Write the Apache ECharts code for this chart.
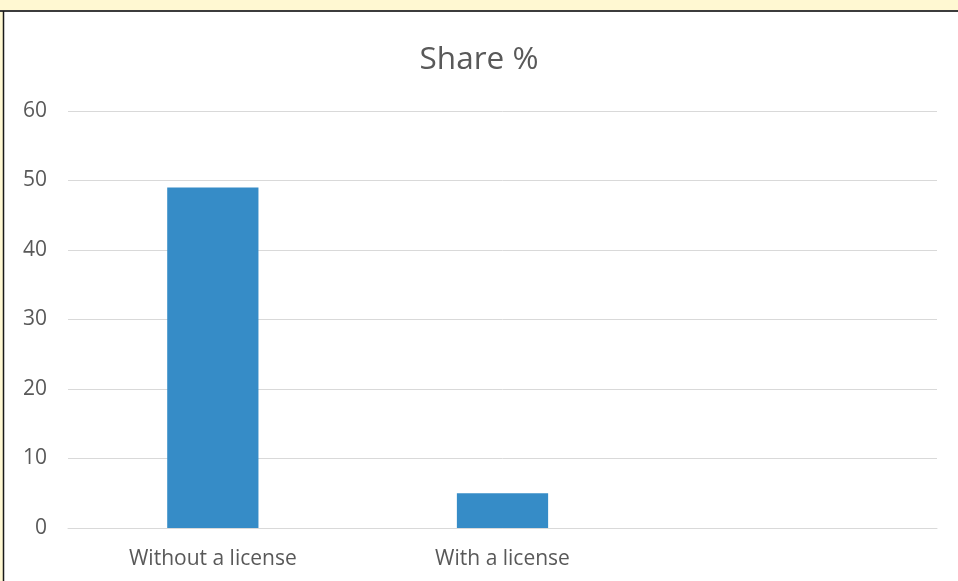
<!DOCTYPE html>
<html>
<head>
<meta charset="utf-8">
<script src="https://cdn.jsdelivr.net/npm/echarts@6/dist/echarts.min.js"></script>
<style>
html,body{margin:0;padding:0;background:#FFF8D2;}
#c{width:958px;height:581px;}
</style>
</head>
<body>
<div id="c"></div>
<script>
const categories = ['Without a license', 'With a license', ''];
const shareValues = [49, 5, null];
const yTicks = [0, 10, 20, 30, 40, 50, 60];

const chart = echarts.init(document.getElementById('c'));
chart.setOption({
  backgroundColor: '#FFF8D2',
  animation: false,
  graphic: [
    { type: 'rect', z: -10, shape: { x: 4, y: 12, width: 954, height: 569 }, style: { fill: '#ffffff' } },
    { type: 'line', z: -5, shape: { x1: 0, y1: 11, x2: 958, y2: 11 }, style: { stroke: '#3c3c3c', lineWidth: 2 } },
    { type: 'line', z: -5, shape: { x1: 3.5, y1: 11, x2: 3.5, y2: 581 }, style: { stroke: '#1a1a1a', lineWidth: 1.5 } }
  ],
  title: {
    text: 'Share %',
    left: 'center',
    top: 39,
    textStyle: { fontFamily: 'Open Sans', fontSize: 31.5, fontWeight: 'normal', color: '#595959' }
  },
  grid: { left: 68, right: 21, top: 111, bottom: 53, containLabel: false },
  xAxis: {
    type: 'category',
    data: categories,
    axisLine: { show: true, lineStyle: { color: '#d9d9d9', width: 1 } },
    axisTick: { show: false },
    axisLabel: { fontFamily: 'Open Sans', fontSize: 21, color: '#595959', margin: 21 }
  },
  yAxis: {
    type: 'value',
    min: yTicks[0],
    max: yTicks[yTicks.length - 1],
    interval: 10,
    axisLine: { show: false },
    axisTick: { show: false },
    splitLine: { lineStyle: { color: '#d9d9d9', width: 1 } },
    axisLabel: { fontFamily: 'Open Sans', fontSize: 21, color: '#595959', margin: 21, padding: [3, 0, 0, 0] }
  },
  series: [{
    type: 'bar',
    data: shareValues,
    barWidth: '31.5%',
    itemStyle: { color: '#368CC7' }
  }]
});
</script>
</body>
</html>
